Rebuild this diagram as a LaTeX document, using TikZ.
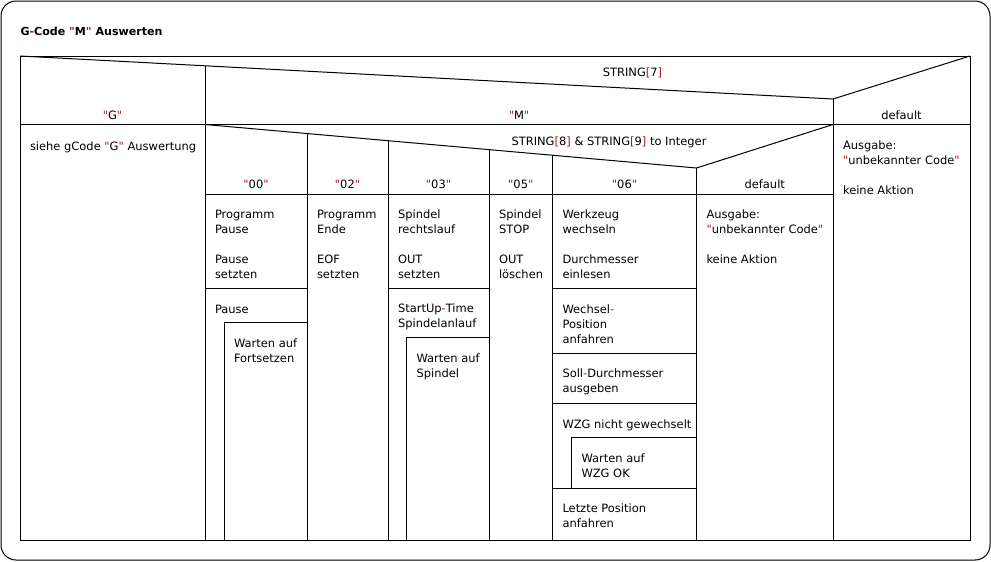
\documentclass[tikz,border=0pt]{standalone}
\usepackage{fontspec}
\setmainfont{DejaVu Sans}[Ligatures=TeXOff]
\setsansfont{DejaVu Sans}[Ligatures=TeXOff]
\usepackage{tikz}
\usetikzlibrary{calc}
\definecolor{codered}{RGB}{170,25,25}
\newcommand{\kw}[1]{\textcolor{codered}{#1}}
\newlength{\luecke}
\setlength{\luecke}{11.25pt}

\begin{document}
\begin{tikzpicture}[x=0.75pt, y=-0.75pt, line width=0.75pt,
    txt/.style={anchor=north west, inner sep=0pt, align=left, font=\fontsize{8.6}{11.25}\selectfont,
        execute at begin node={\rule{0pt}{9pt}}},
    lbl/.style={anchor=base, inner sep=0pt, font=\fontsize{8.6}{11.25}\selectfont}]

    \useasboundingbox (0,0) rectangle (991,561);
    \draw[rounded corners=11.25pt] (1,1) rectangle (990,560);
    \node[lbl, anchor=base west, font=\fontsize{8.3}{11.25}\selectfont\bfseries] (titel) at (20,35) {G\kw{-}Code \kw{"}M\kw{"} Auswerten};

    % aeussere Auswahl STRING[7]
    \draw (20,56) rectangle (970,540);
    \draw (20,56) -- (833,99) -- (970,56);
    \draw (205,65.8) -- (205,540);
    \draw (833,99) -- (833,540);
    \draw (20,124.5) -- (970,124.5);
    \node[lbl] (sel7) at (632.5,76.5) {STRING\kw{[}7\kw{]}};
    \node[lbl] (caseG) at (112.5,119) {\kw{"}G\kw{"}};
    \node[lbl] (caseM) at (519,119) {\kw{"}M\kw{"}};
    \node[lbl] (caseD) at (901.5,119) {default};
    \node[txt] (textG) at (29.5,137.5) {siehe gCode \kw{"}G\kw{"} Auswertung};
    \node[txt] (textD) at (842.5,140) {Ausgabe:\\\kw{"}unbekannter Code\kw{"}\\[\luecke]keine Aktion};

    % innere Auswahl STRING[8] & STRING[9]
    \draw (205,124.5) -- (696.5,168) -- (833,124.5);
    \draw (307,133.5) -- (307,540);
    \draw (388,140.7) -- (388,540);
    \draw (489,149.6) -- (489,540);
    \draw (552.5,155.3) -- (552.5,540);
    \draw (696.5,168) -- (696.5,540);
    \draw (205,194) -- (833,194);
    \node[lbl] (sel89) at (609,145) {STRING\kw{[}8\kw{]} \& STRING\kw{[}9\kw{]} to Integer};
    \node[lbl] (c00) at (256,188.5) {\kw{"}00\kw{"}};
    \node[lbl] (c02) at (347.5,188.5) {\kw{"}02\kw{"}};
    \node[lbl] (c03) at (438.5,188.5) {\kw{"}03\kw{"}};
    \node[lbl] (c05) at (520.75,188.5) {\kw{"}05\kw{"}};
    \node[lbl] (c06) at (624.5,188.5) {\kw{"}06\kw{"}};
    \node[lbl] (cdef) at (764.75,188.5) {default};

    % "00"
    \draw (205,288) -- (307,288);
    \draw (224,540) -- (224,322.5) -- (307,322.5);
    \node[txt] (t00a) at (214.5,209.5) {Programm\\Pause\\[\luecke]Pause\\setzten};
    \node[txt] (t00b) at (214.5,300.5) {Pause};
    \node[txt] (t00c) at (233.5,338) {Warten auf\\Fortsetzen};

    % "02"
    \node[txt] (t02a) at (316.5,209.5) {Programm\\Ende\\[\luecke]EOF\\setzten};

    % "03"
    \draw (388,288) -- (489,288);
    \draw (406.5,540) -- (406.5,337.5) -- (489,337.5);
    \node[txt] (t03a) at (397.5,209.5) {Spindel\\rechtslauf\\[\luecke]OUT\\setzten};
    \node[txt] (t03b) at (397.5,303.5) {StartUp\kw{-}Time\\Spindelanlauf};
    \node[txt] (t03c) at (416,353) {Warten auf\\Spindel};

    % "05"
    \node[txt] (t05a) at (498.5,209.5) {Spindel\\STOP\\[\luecke]OUT\\löschen};

    % "06"
    \draw (552.5,288) -- (696.5,288);
    \draw (552.5,353) -- (696.5,353);
    \draw (552.5,403) -- (696.5,403);
    \draw (571.5,488) -- (571.5,437.5) -- (696.5,437.5);
    \draw (552.5,488) -- (696.5,488);
    \node[txt] (t06a) at (562,209.5) {Werkzeug\\wechseln\\[\luecke]Durchmesser\\einlesen};
    \node[txt] (t06b) at (562,304) {Wechsel\kw{-}\\Position\\anfahren};
    \node[txt] (t06c) at (562,368.5) {Soll\kw{-}Durchmesser\\ausgeben};
    \node[txt] (t06d) at (562,416) {WZG nicht gewechselt};
    \node[txt] (t06e) at (581,453) {Warten auf\\WZG OK};
    \node[txt] (t06f) at (562,503.5) {Letzte Position\\anfahren};

    % default
    \node[txt] (tdef) at (706,209.5) {Ausgabe:\\\kw{"}unbekannter Code\kw{"}\\[\luecke]keine Aktion};

\end{tikzpicture}
\end{document}
